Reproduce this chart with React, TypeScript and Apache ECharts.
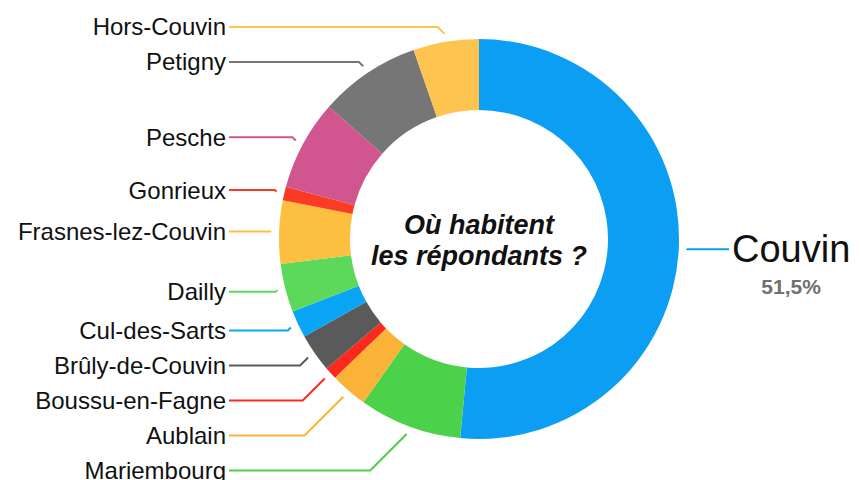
import React, { useEffect, useRef } from "react";
import * as echarts from "echarts";

const names = [
  "Couvin",
  "Mariembourg",
  "Aublain",
  "Boussu-en-Fagne",
  "Brûly-de-Couvin",
  "Cul-des-Sarts",
  "Dailly",
  "Frasnes-lez-Couvin",
  "Gonrieux",
  "Pesche",
  "Petigny",
  "Hors-Couvin",
];
const values = [51.5, 8.3, 3.0, 1.0, 3.1, 2.2, 3.9, 5.1, 1.1, 7.3, 8.2, 5.3];
const colors = [
  "#0c9ef3",
  "#4bd14a",
  "#fbb337",
  "#fb2a1f",
  "#5a5a5a",
  "#0aa6f5",
  "#5cd85b",
  "#fdbf40",
  "#fb3b24",
  "#d1568f",
  "#767676",
  "#fdc550",
];
const titleLines = ["Où habitent", "les répondants ?"];

const CX = 479;
const CY = 239;
const R_IN = 129;
const R_OUT = 200;
const LINE_REACH = 250; // distance from centre to the aligned end of label lines
const GAP = 8;
const FONT = "'Liberation Sans', Arial, Helvetica, sans-serif";

export default function App() {
  const ref = useRef<HTMLDivElement>(null);
  useEffect(() => {
    document.body.style.margin = "0";
    const chart = echarts.init(ref.current!, undefined, { renderer: "svg" });
    const data = names.map((n, i) => {
      const item: any = { name: n, value: values[i], itemStyle: { color: colors[i] } };
      if (i === 0) {
        item.label = {
          formatter: (p: any) =>
            `{n|${p.name}}\n{p|${p.percent.toFixed(1).replace(".", ",")}%}`,
          padding: [36, 0, 0, 0],
          rich: {
            n: { fontSize: 38, lineHeight: 38, color: "#111", fontFamily: FONT },
            p: {
              fontSize: 21,
              lineHeight: 36,
              fontWeight: "bold",
              color: "#707070",
              fontFamily: FONT,
              align: "center",
            },
          },
        };
      }
      return item;
    });
    chart.setOption({
      animation: false,
      graphic: [
        {
          type: "text",
          x: CX,
          y: CY + 1,
          style: {
            text: titleLines.join("\n"),
            align: "center",
            verticalAlign: "middle",
            font: `italic bold 27px ${FONT}`,
            lineHeight: 31,
            fill: "#111",
          },
        },
      ],
      series: [
        {
          type: "pie",
          center: [CX, CY],
          radius: [R_IN, R_OUT],
          startAngle: 90,
          clockwise: true,
          avoidLabelOverlap: true,
          minShowLabelAngle: 0,
          emphasis: { disabled: true },
          label: {
            show: true,
            position: "outside",
            alignTo: "labelLine",
            distanceToLabelLine: 3,
            fontSize: 24,
            lineHeight: 33,
            color: "#111",
            fontFamily: FONT,
            formatter: "{b}",
          },
          labelLine: {
            show: true,
            length: 15,
            length2: 35,
            smooth: false,
            lineStyle: { width: 2 },
          },
          labelLayout: (p: any) => {
            const pts = p.labelLinePoints;
            if (!pts || !pts.length) return {};
            const first = pts[0];
            const last = pts[pts.length - 1];
            const vx = first[0] - CX;
            const vy = first[1] - CY;
            const len = Math.hypot(vx, vy) || 1;
            const start = [first[0] + (vx / len) * GAP, first[1] + (vy / len) * GAP];
            const left = last[0] < CX;
            const endY = last[1];
            const endX = left ? CX - LINE_REACH : CX + LINE_REACH;
            const dy = Math.abs(endY - start[1]);
            let bx = start[0] + (left ? -dy : dy);
            bx = left ? Math.max(bx, endX) : Math.min(bx, endX);
            return {
              x: left ? endX - 3 : endX + 3,
              align: left ? "right" : "left",
              labelLinePoints: [start, [bx, endY], [endX, endY]],
            };
          },
          data,
        },
      ],
    });
    return () => chart.dispose();
  }, []);
  return (
    <div style={{ width: 860, height: 480, overflow: "hidden", position: "relative" }}>
      <div ref={ref} style={{ width: 900, height: 500 }} />
    </div>
  );
}
